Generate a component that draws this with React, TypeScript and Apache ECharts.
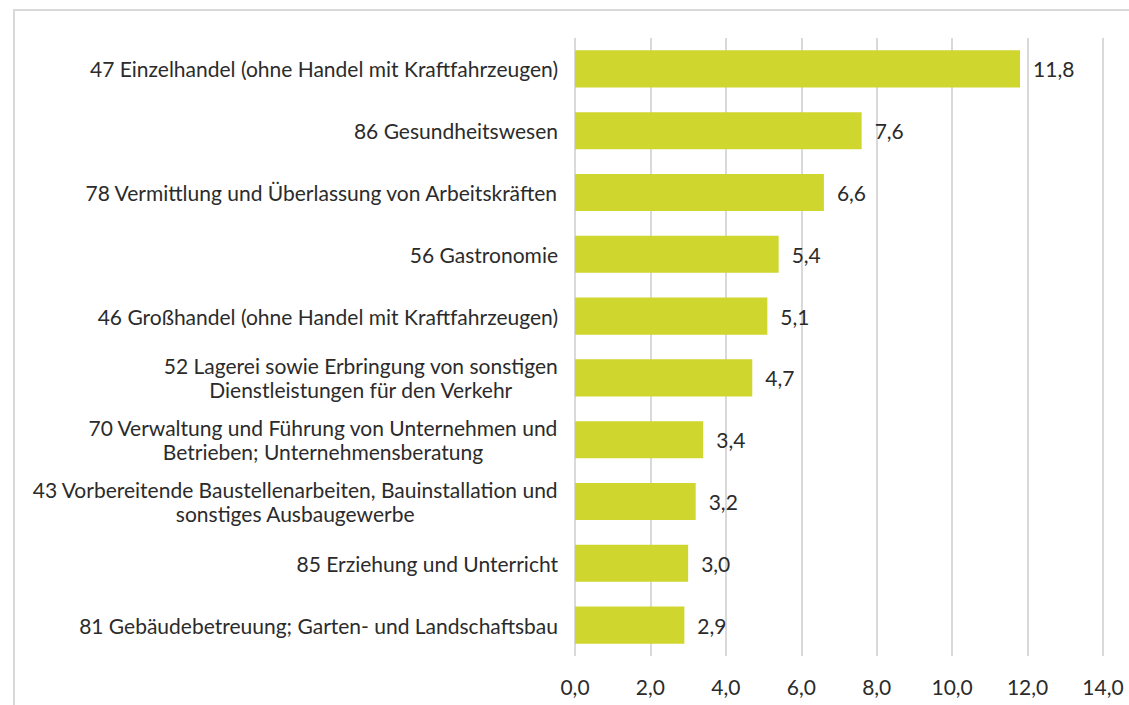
import React, { useEffect, useRef } from "react";
import * as echarts from "echarts";

const categories: string[] = [
  "47 Einzelhandel (ohne Handel mit Kraftfahrzeugen)",
  "86 Gesundheitswesen",
  "78 Vermittlung und Überlassung von Arbeitskräften",
  "56 Gastronomie",
  "46 Großhandel (ohne Handel mit Kraftfahrzeugen)",
  "52 Lagerei sowie Erbringung von sonstigen\nDienstleistungen für den Verkehr",
  "70 Verwaltung und Führung von Unternehmen und\nBetrieben; Unternehmensberatung",
  "43 Vorbereitende Baustellenarbeiten, Bauinstallation und\nsonstiges Ausbaugewerbe",
  "85 Erziehung und Unterricht",
  "81 Gebäudebetreuung; Garten- und Landschaftsbau",
];

const values: number[] = [11.8, 7.6, 6.6, 5.4, 5.1, 4.7, 3.4, 3.2, 3.0, 2.9];

const axisMin = 0;
const axisMax = 14;
const axisStep = 2;

const FONT = "Lato, sans-serif";
const FS = 21;
const TEXT_COLOR = "#2b2b2b";
const BAR_COLOR = "#CFD62E";
const GRID_COLOR = "#D9D9D9";

const fmt = (v: number) => v.toFixed(1).replace(".", ",");

export default function App() {
  const ref = useRef<HTMLDivElement>(null);

  useEffect(() => {
    if (!ref.current) return;
    const chart = echarts.init(ref.current, undefined, { renderer: "svg" });
    chart.setOption({
      animation: false,
      backgroundColor: "#ffffff",
      graphic: [
        {
          type: "rect",
          shape: { x: 14, y: 10, width: 1300, height: 900 },
          style: { fill: "none", stroke: GRID_COLOR, lineWidth: 2 },
          silent: true,
          z: -10,
        },
      ],
      grid: { left: 575, right: 26, top: 38, bottom: 49, containLabel: false },
      xAxis: {
        type: "value",
        min: axisMin,
        max: axisMax,
        interval: axisStep,
        axisLine: { show: false },
        axisTick: { show: false },
        splitLine: { show: true, lineStyle: { color: GRID_COLOR, width: 2 } },
        axisLabel: {
          formatter: (v: number) => fmt(v),
          color: TEXT_COLOR,
          fontFamily: FONT,
          fontSize: FS,
          margin: 20,
        },
      },
      yAxis: {
        type: "category",
        inverse: true,
        data: categories,
        axisLine: { show: false },
        axisTick: { show: false },
        axisLabel: {
          margin: 17,
          color: TEXT_COLOR,
          fontFamily: FONT,
          fontSize: FS,
          lineHeight: 24,
          formatter: (s: string) =>
            s
              .split("\n")
              .map((l) => `{c|${l}}`)
              .join("\n"),
          rich: {
            c: {
              align: "center",
              color: TEXT_COLOR,
              fontFamily: FONT,
              fontSize: FS,
              lineHeight: 24,
            },
          },
        },
      },
      series: [
        {
          type: "bar",
          data: values,
          barCategoryGap: "40%",
          itemStyle: { color: BAR_COLOR },
          label: {
            show: true,
            position: "right",
            distance: 13,
            formatter: (p: any) => fmt(p.value),
            color: TEXT_COLOR,
            fontFamily: FONT,
            fontSize: FS,
          },
        },
      ],
    });
    return () => chart.dispose();
  }, []);

  return (
    <div
      ref={ref}
      style={{ position: "fixed", left: 0, top: 0, width: 1129, height: 705 }}
    />
  );
}
